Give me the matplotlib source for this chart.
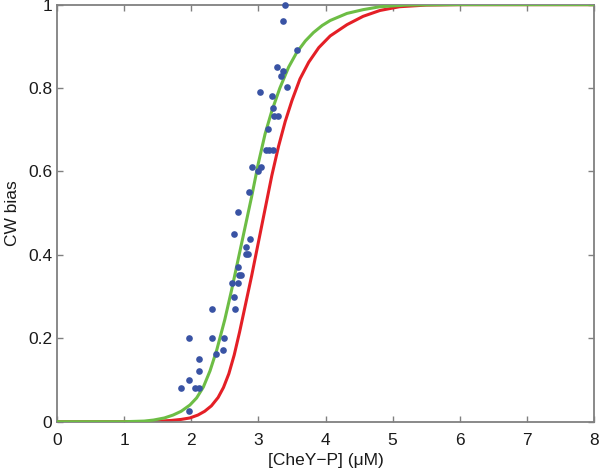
import matplotlib
matplotlib.use("Agg")
import matplotlib.pyplot as plt
from matplotlib.ticker import FixedLocator

plt.rcParams['font.family'] = ['Liberation Sans', 'DejaVu Sans']

# Measured data points (blue dots)
data_x = [3.39, 3.36, 3.58, 3.28, 3.36, 3.34, 3.03, 3.43, 3.20, 3.22, 3.23, 3.29,
          3.15, 3.11, 3.16, 3.22, 2.91, 3.04, 2.99, 2.86, 2.70, 2.63, 2.87, 2.81,
          2.81, 2.84, 2.70, 2.71, 2.74, 2.61, 2.70, 2.63, 2.31, 2.65, 1.97, 2.31,
          2.49, 2.47, 2.37, 2.11, 2.11, 1.97, 1.85, 2.06, 2.11, 1.97]
data_y = [1.0, 0.961, 0.891, 0.851, 0.841, 0.829, 0.791, 0.802, 0.782, 0.752, 0.732, 0.732,
          0.701, 0.652, 0.652, 0.652, 0.61, 0.61, 0.602, 0.55, 0.502, 0.451, 0.439, 0.42,
          0.401, 0.401, 0.37, 0.351, 0.351, 0.332, 0.332, 0.30, 0.27, 0.27, 0.201, 0.201,
          0.201, 0.173, 0.162, 0.15, 0.122, 0.10, 0.081, 0.081, 0.081, 0.026]

# Red model curve
red_x = [0, 1.0, 1.4, 1.54, 1.7, 1.85, 1.98, 2.1, 2.2, 2.3, 2.4, 2.48, 2.56, 2.64, 2.72,
         2.8, 2.9, 3.0, 3.1, 3.2, 3.3, 3.4, 3.5, 3.62, 3.75, 3.9, 4.07, 4.32, 4.56, 4.81,
         5.1, 5.5, 6.0, 8.0]
red_y = [0, 0, 0.0005, 0.0015, 0.003, 0.0055, 0.009, 0.016, 0.025, 0.038, 0.058, 0.082,
         0.115, 0.16, 0.215, 0.275, 0.35, 0.43, 0.51, 0.59, 0.66, 0.72, 0.77, 0.822, 0.862,
         0.897, 0.925, 0.952, 0.972, 0.986, 0.995, 0.999, 1.0, 1.0]

# Green model curve
green_x = [0, 1.0, 1.3, 1.44, 1.6, 1.73, 1.85, 1.98, 2.08, 2.18, 2.28, 2.38, 2.5, 2.6,
           2.7, 2.8, 2.9, 3.0, 3.1, 3.2, 3.32, 3.45, 3.57, 3.7, 3.82, 3.95, 4.07, 4.32,
           4.56, 4.81, 5.2, 6.0, 8.0]
green_y = [0, 0, 0.0015, 0.004, 0.009, 0.016, 0.025, 0.04, 0.057, 0.083, 0.122, 0.172,
           0.245, 0.315, 0.39, 0.465, 0.54, 0.62, 0.69, 0.745, 0.80, 0.85, 0.885, 0.913,
           0.933, 0.95, 0.962, 0.979, 0.988, 0.995, 0.999, 1.0, 1.0]

x_ticks = [0, 1, 2, 3, 4, 5, 6, 7, 8]
y_ticks = [0, 0.2, 0.4, 0.6, 0.8, 1.0]
y_tick_labels = ["0", "0.2", "0.4", "0.6", "0.8", "1"]
x_label = "[CheY\u2212P] (\u03bcM)"
y_label = "CW bias"

fig = plt.figure(figsize=(6.0, 4.75), dpi=100)
ax = fig.add_axes([0.095, 0.1122, 0.895, 0.878])

ax.plot(red_x, red_y, color='#e41f26', lw=2.2, zorder=2)
ax.plot(green_x, green_y, color='#6dbd45', lw=2.2, zorder=3)
ax.plot(data_x, data_y, 'o', color='#3953a4', markersize=4.8, markeredgewidth=0,
        zorder=4, clip_on=False)

ax.set_xlim(0, 8)
ax.set_ylim(0, 1)
ax.xaxis.set_major_locator(FixedLocator(x_ticks))
ax.yaxis.set_major_locator(FixedLocator(y_ticks))
ax.set_xticklabels([str(t) for t in x_ticks])
ax.set_yticklabels(y_tick_labels)

for s in ax.spines.values():
    s.set_color('#808080')
    s.set_linewidth(1.3)
ax.tick_params(direction='in', top=True, right=True, length=4, width=1,
               color='#808080', labelsize=12.5, labelcolor='#1a1a1a')
ax.tick_params(axis='x', pad=8)
ax.tick_params(axis='y', pad=3.5)

ax.set_xlabel(x_label, fontsize=12.5, color='#1a1a1a', labelpad=4)
ax.set_ylabel(y_label, fontsize=12.5, color='#1a1a1a', labelpad=6)

fig.savefig("out.png", dpi=100)
